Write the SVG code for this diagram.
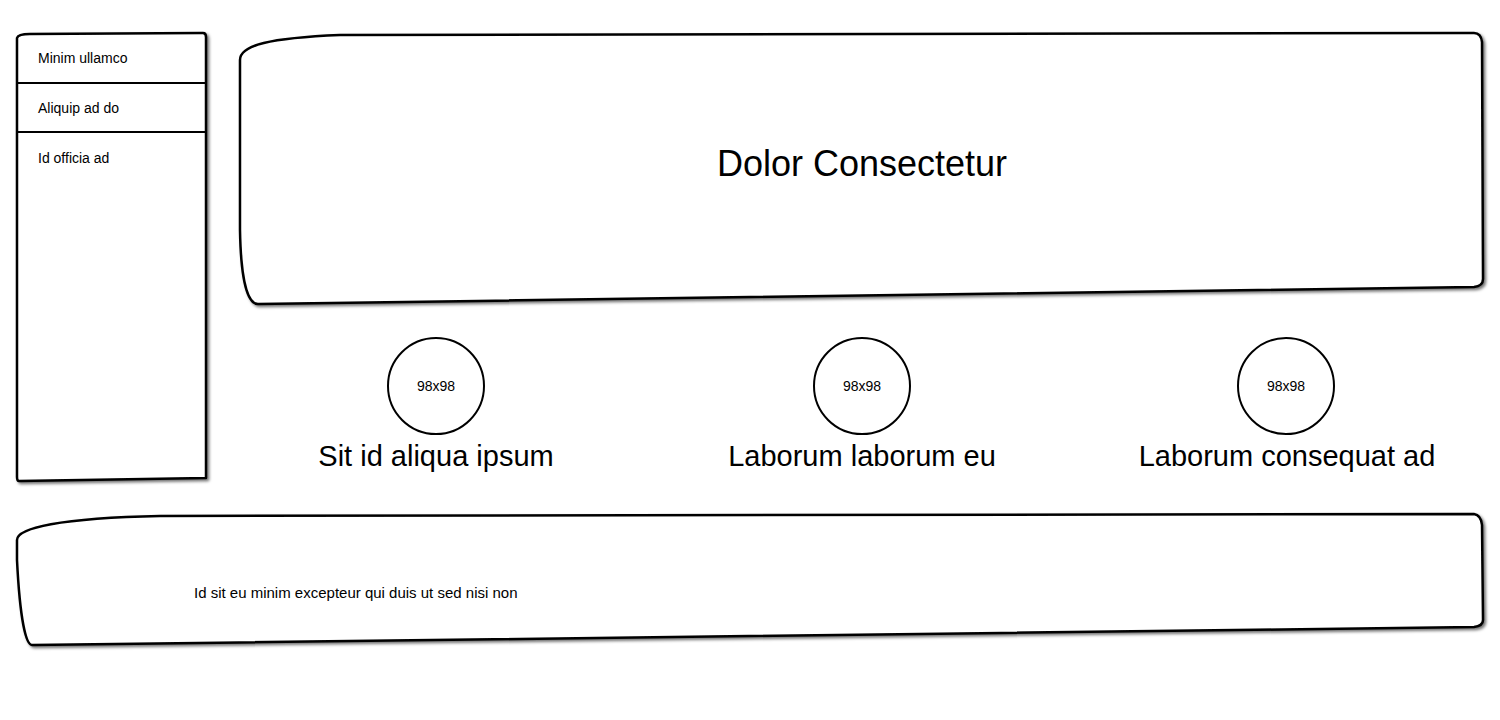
<svg xmlns="http://www.w3.org/2000/svg" width="1500" height="720" viewBox="0 0 1500 720">
  <defs>
    <filter id="shadow" x="-5%" y="-5%" width="110%" height="115%">
      <feDropShadow dx="2" dy="2" stdDeviation="1.5" flood-color="#000" flood-opacity="0.55"/>
    </filter>
    <style>
      .box { fill: #ffffff; stroke: #000000; stroke-width: 2.5; stroke-linejoin: round; filter: url(#shadow); }
      .sep { stroke: #000000; stroke-width: 2; fill: none; }
      .circ { fill: #ffffff; stroke: #000000; stroke-width: 2; }
      .t { font-family: "Liberation Sans", Arial, sans-serif; fill: #000000; }
      .small { font-size: 14px; }
      .title { font-size: 36px; text-anchor: middle; }
      .label { font-size: 29px; text-anchor: middle; }
      .ph { font-size: 14px; text-anchor: middle; }
      .foot { font-size: 15px; }
    </style>
  </defs>
  <rect width="1500" height="720" fill="#ffffff"/>

  <g id="sidebar">
    <path class="box" d="M 17,38 Q 18,34 30,34 L 203,33 Q 206,33 206,37 L 206,478 L 19,481 Q 17,481 17,477 Z"/>
    <line class="sep" x1="17" y1="83" x2="206" y2="83"/>
    <line class="sep" x1="17" y1="132" x2="206" y2="132"/>
    <text class="t small" x="38" y="63">Minim ullamco</text>
    <text class="t small" x="38" y="113">Aliquip ad do</text>
    <text class="t small" x="38" y="163">Id officia ad</text>
  </g>

  <g id="header">
    <path class="box" d="M 240,60 C 240,45 270,38 340,35 L 1474,33 Q 1481,33 1482,42 L 1483,279 Q 1483,286 1474,287 L 258,304 C 250,304 241,290 240,230 Z"/>
    <text class="t title" x="862" y="176">Dolor Consectetur</text>
  </g>

  <g id="feature1">
    <circle class="circ" cx="436" cy="386" r="48"/>
    <text class="t ph" x="436" y="391">98x98</text>
    <text class="t label" x="436" y="466">Sit id aliqua ipsum</text>
  </g>

  <g id="feature2">
    <circle class="circ" cx="862" cy="386" r="48"/>
    <text class="t ph" x="862" y="391">98x98</text>
    <text class="t label" x="862" y="466">Laborum laborum eu</text>
  </g>

  <g id="feature3">
    <circle class="circ" cx="1286" cy="386" r="48"/>
    <text class="t ph" x="1286" y="391">98x98</text>
    <text class="t label" x="1287" y="466">Laborum consequat ad</text>
  </g>

  <g id="footer">
    <path class="box" d="M 17,540 C 17,528 60,518 160,516 L 1474,514 Q 1481,515 1482,525 L 1483,620 Q 1483,626 1474,627 L 32,645 C 26,645 20,620 17,560 Z"/>
    <text class="t foot" x="194" y="598">Id sit eu minim excepteur qui duis ut sed nisi non</text>
  </g>

  <g id="connectors"></g>
</svg>
